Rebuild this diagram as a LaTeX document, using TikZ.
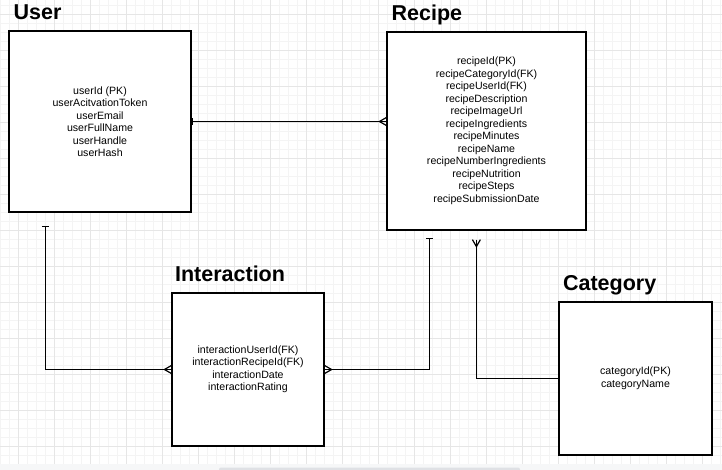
\documentclass[tikz,border=0pt]{standalone}
\usepackage{fontspec}
\setmainfont{Liberation Sans}
\usetikzlibrary{positioning, arrows.meta, calc}

\definecolor{gridminor}{HTML}{F4F4F4}
\definecolor{gridmajor}{HTML}{E6E6E6}
\definecolor{barbg}{HTML}{F6F7F8}
\definecolor{barfg}{HTML}{DFE1E5}

% crow's foot (many) end
\pgfdeclarearrow{
	name = Crow,
	parameters = {\the\pgfarrowlength,\the\pgfarrowwidth},
	setup code = {
		\pgfarrowssettipend{0pt}
		\pgfarrowssetlineend{0pt}
		\pgfarrowssetbackend{-\pgfarrowlength}
		\pgfarrowshullpoint{0pt}{.5\pgfarrowwidth}
		\pgfarrowshullpoint{0pt}{-.5\pgfarrowwidth}
		\pgfarrowshullpoint{-\pgfarrowlength}{0pt}
		\pgfarrowssavethe\pgfarrowlength
		\pgfarrowssavethe\pgfarrowwidth
	},
	drawing code = {
		\pgfpathmoveto{\pgfqpoint{0pt}{.5\pgfarrowwidth}}
		\pgfpathlineto{\pgfqpoint{-\pgfarrowlength}{0pt}}
		\pgfpathlineto{\pgfqpoint{0pt}{-.5\pgfarrowwidth}}
		\pgfusepathqstroke
	},
	defaults = {length=7pt, width=8pt}
}

\tikzset{
	entity/.style={draw, line width=1.2pt, fill=white, align=center, inner sep=0pt,
		font=\fontsize{10.6}{12.5}\selectfont},
	title/.style={font=\fontsize{21.5}{21.5}\selectfont\bfseries, inner sep=0pt},
	rel/.style={line width=1.2pt},
	one/.tip={Bar[width=7pt, line width=0.8pt]},
}

\begin{document}
\begin{tikzpicture}[x=1pt, y=-1pt]
		\useasboundingbox (0,0) rectangle (722,470);
		% Background grid
		\fill[white] (0,0) rectangle (722,470);
		\foreach \x in {0.5,9.5,...,722} \draw[gridminor, line width=1pt] (\x,0) -- (\x,464);
		\foreach \y in {5.5,14.5,...,464} \draw[gridminor, line width=1pt] (0,\y) -- (722,\y);
		\foreach \x in {18.5,54.5,...,722} \draw[gridmajor, line width=1pt] (\x,0) -- (\x,464);
		\foreach \y in {14.5,50.5,...,464} \draw[gridmajor, line width=1pt] (0,\y) -- (722,\y);
		\fill[barbg] (0,464) rectangle (722,470);
		\fill[barfg, rounded corners=2pt] (219,467.5) rectangle (520,473);
		
		% Entities
		\node[entity, minimum width=182pt, minimum height=181pt] (user) at (100,121.5)
			{userId (PK)\\ userAcitvationToken\\ userEmail\\ userFullName\\ userHandle\\ userHash};
		\node[entity, minimum width=199pt, minimum height=198pt] (recipe) at (486.5,131)
			{recipeId(PK)\\ recipeCategoryId(FK)\\ recipeUserId(FK)\\ recipeDescription\\
			recipeImageUrl\\ recipeIngredients\\ recipeMinutes\\ recipeName\\
			recipeNumberIngredients\\ recipeNutrition\\ recipeSteps\\ recipeSubmissionDate};
		\node[entity, minimum width=152pt, minimum height=153pt] (interaction) at (248,369.5)
			{interactionUserId(FK)\\ interactionRecipeId(FK)\\ interactionDate\\ interactionRating};
		\node[entity, minimum width=153pt, minimum height=153pt] (category) at (635.5,378.5)
			{categoryId(PK)\\ categoryName};
		
		% Titles
		\node[title, above right=11pt and 5pt of user.north west, anchor=base west] (usertitle) {User};
		\node[title, above right=11pt and 5pt of recipe.north west, anchor=base west] (recipetitle) {Recipe};
		\node[title, above right=11pt and 3.5pt of interaction.north west, anchor=base west] (interactiontitle) {Interaction};
		\node[title, above right=11pt and 4.5pt of category.north west, anchor=base west] (categorytitle) {Category};
		
		% Relations
		\draw[rel, one-Crow] (user.east) -- (user.east -| recipe.west);
		\draw[rel, one-Crow] ($(user.south west)+(37,13)$) |- (interaction.west);
		\draw[rel, one-Crow] ($(recipe.south west)+(43,7)$) |- (interaction.east);
		\draw[rel, Crow-one] ($(recipe.south west)+(90,9)$) |- (category.west);
	\end{tikzpicture}
\end{document}
